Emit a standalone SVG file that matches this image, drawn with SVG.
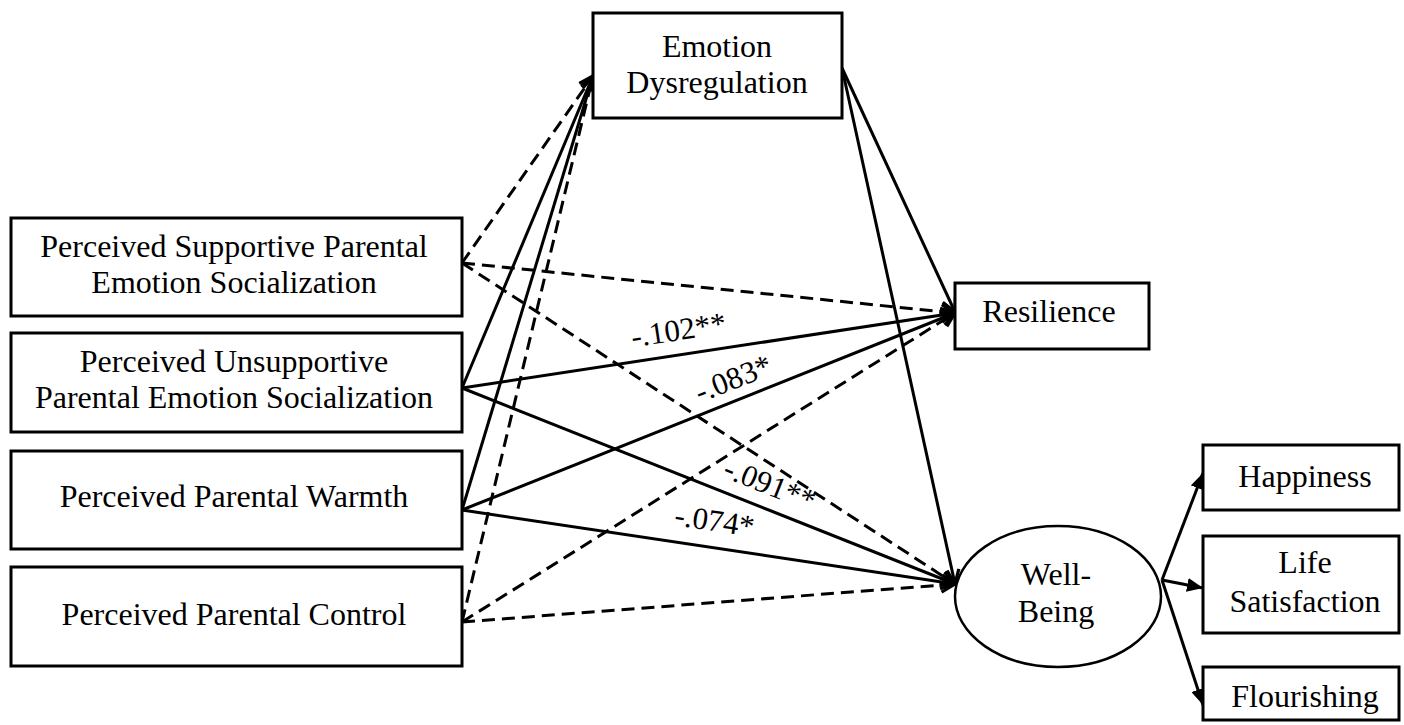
<svg xmlns="http://www.w3.org/2000/svg" width="1404" height="725" viewBox="0 0 1404 725">
<style>
.box{fill:#fff;stroke:#000;stroke-width:3}
.ell{fill:#fff;stroke:#000;stroke-width:2.5}
.t{font-family:"Liberation Serif","Times New Roman",serif;font-size:32px;fill:#000;text-anchor:middle}
.lab{font-family:"Liberation Serif","Times New Roman",serif;font-size:31px;fill:#000;text-anchor:middle}
.s{fill:none;stroke:#000;stroke-width:3;marker-end:url(#open)}
.d{fill:none;stroke:#000;stroke-width:3;stroke-dasharray:13 7;marker-end:url(#open)}
.f{fill:none;stroke:#000;stroke-width:3;marker-end:url(#fill)}
</style>
<defs>
<marker id="open" markerUnits="userSpaceOnUse" markerWidth="18" markerHeight="18" viewBox="0 0 18 18" refX="16" refY="9" orient="auto">
<path d="M2,2 L16,9 L2,16" fill="none" stroke="#000" stroke-width="3.2"/>
</marker>
<marker id="fill" markerUnits="userSpaceOnUse" markerWidth="16" markerHeight="14" viewBox="0 0 16 14" refX="16" refY="7" orient="auto">
<path d="M0,0 L16,7 L0,14 Z" fill="#000"/>
</marker>
</defs>
<rect width="1404" height="725" fill="#fff"/>
<g id="connectors">
<line class="d" x1="462" y1="263" x2="593" y2="76"/>
<line class="s" x1="462" y1="388" x2="593" y2="76"/>
<line class="s" x1="462" y1="510" x2="593" y2="76"/>
<line class="d" x1="462" y1="622" x2="593" y2="76"/>
<line class="d" x1="462" y1="263" x2="955" y2="313"/>
<line class="s" x1="462" y1="388" x2="955" y2="313"/>
<line class="s" x1="462" y1="510" x2="955" y2="313"/>
<line class="d" x1="462" y1="622" x2="955" y2="313"/>
<line class="d" x1="462" y1="263" x2="955" y2="584"/>
<line class="s" x1="462" y1="388" x2="955" y2="584"/>
<line class="s" x1="462" y1="510" x2="955" y2="584"/>
<line class="d" x1="462" y1="622" x2="955" y2="584"/>
<line class="s" x1="842" y1="68" x2="955" y2="312"/>
<line class="s" x1="842" y1="68" x2="955" y2="584"/>
<line class="f" x1="1162" y1="580" x2="1203" y2="473"/>
<line class="f" x1="1162" y1="580" x2="1203" y2="588"/>
<line class="f" x1="1162" y1="580" x2="1203" y2="705"/>
<text class="lab" transform="translate(680,340) rotate(-8.65)">-.102**</text>
<text class="lab" transform="translate(737,388) rotate(-21.8)">-.083*</text>
<text class="lab" transform="translate(766,494) rotate(21.7)">-.091**</text>
<text class="lab" transform="translate(713,531) rotate(8.5)">-.074*</text>
</g>
<g id="emotion-dysregulation">
<rect class="box" x="593" y="13" width="249" height="105"/>
<text class="t" x="717" y="57">Emotion</text>
<text class="t" x="717" y="93">Dysregulation</text>
</g>
<g id="resilience">
<rect class="box" x="955" y="283" width="194" height="66"/>
<text class="t" x="1049" y="322">Resilience</text>
</g>
<g id="supportive">
<rect class="box" x="11" y="218" width="451" height="98"/>
<text class="t" x="234" y="257">Perceived Supportive Parental</text>
<text class="t" x="234" y="293">Emotion Socialization</text>
</g>
<g id="unsupportive">
<rect class="box" x="11" y="333" width="451" height="99"/>
<text class="t" x="234" y="372">Perceived Unsupportive</text>
<text class="t" x="234" y="408">Parental Emotion Socialization</text>
</g>
<g id="warmth">
<rect class="box" x="11" y="451" width="451" height="98"/>
<text class="t" x="234" y="507">Perceived Parental Warmth</text>
</g>
<g id="control">
<rect class="box" x="11" y="567" width="451" height="99"/>
<text class="t" x="234" y="625">Perceived Parental Control</text>
</g>
<g id="well-being">
<ellipse class="ell" cx="1058" cy="596.5" rx="103" ry="70.5"/>
<text class="t" x="1056" y="585">Well-</text>
<text class="t" x="1056" y="622">Being</text>
</g>
<g id="happiness">
<rect class="box" x="1203" y="445" width="196" height="65"/>
<text class="t" x="1305" y="487">Happiness</text>
</g>
<g id="life-satisfaction">
<rect class="box" x="1203" y="536" width="196" height="97"/>
<text class="t" x="1305" y="573">Life</text>
<text class="t" x="1305" y="612">Satisfaction</text>
</g>
<g id="flourishing">
<rect class="box" x="1203" y="667" width="196" height="53"/>
<text class="t" x="1305" y="707">Flourishing</text>
</g>
</svg>
